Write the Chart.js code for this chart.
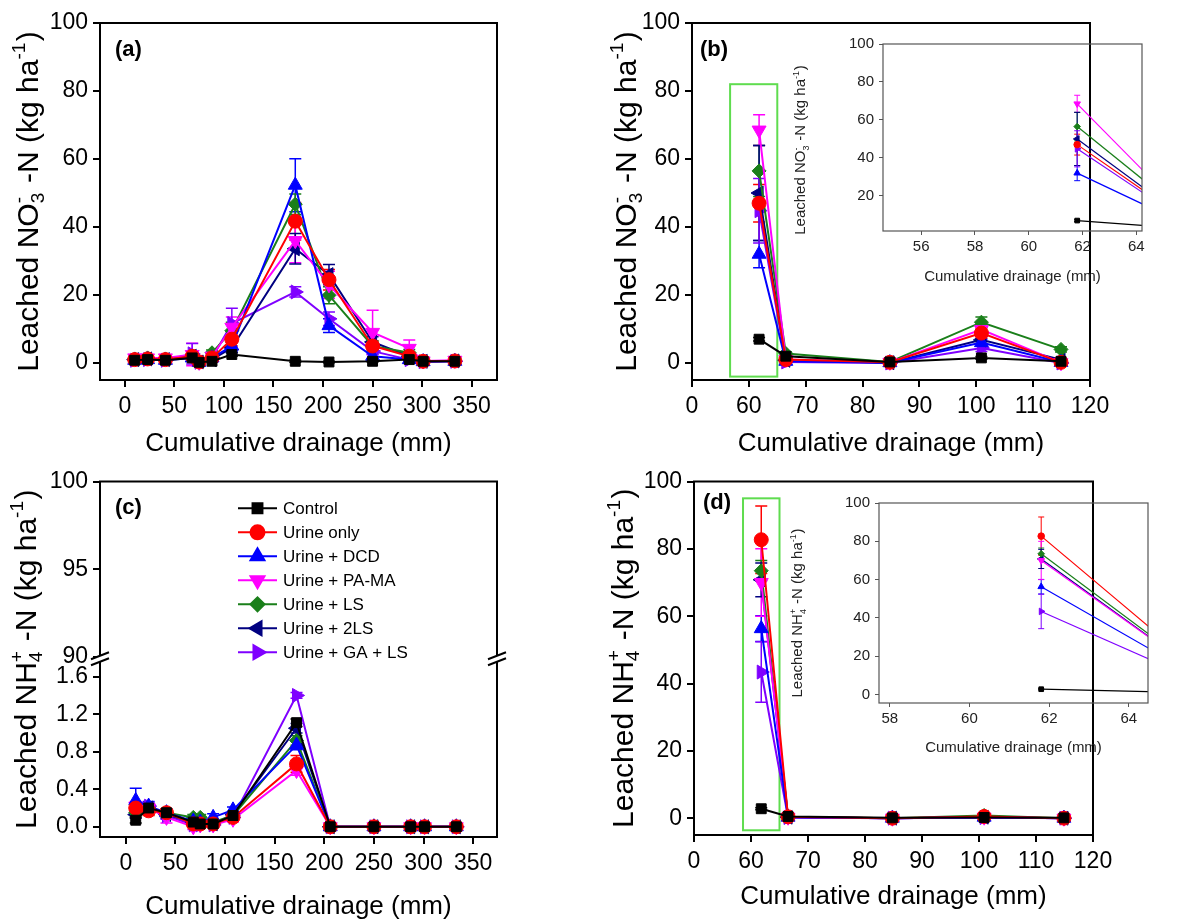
<!DOCTYPE html>
<html><head><meta charset="utf-8">
<script src="https://cdn.jsdelivr.net/npm/chart.js@4.4.1/dist/chart.umd.min.js"></script>
<style>
html,body{margin:0;padding:0;background:#fff;}
#wrap{position:relative;width:1195px;height:924px;overflow:hidden;background:#fff;}
canvas{position:absolute;}
</style></head><body><div id="wrap">
<canvas id="cA" width="597" height="465" style="left:0;top:0"></canvas>
<canvas id="cB" width="598" height="465" style="left:597px;top:0"></canvas>
<canvas id="cC" width="597" height="459" style="left:0;top:465px"></canvas>
<canvas id="cD" width="598" height="459" style="left:597px;top:465px"></canvas>
<canvas id="cBi" width="380" height="265" style="left:780px;top:30px"></canvas>
<canvas id="cDi" width="380" height="285" style="left:780px;top:485px"></canvas>
</div>
<script>
const FONT = "'Liberation Sans', Arial, Helvetica, sans-serif";

// ---------- categories / series ----------
const NAMES = ['Control','Urine only','Urine + DCD','Urine + PA-MA','Urine + LS','Urine + 2LS','Urine + GA + LS'];

// x positions (cumulative drainage, mm)
const XA = [10, 23, 41, 68, 75, 88, 108, 172, 206, 250, 287, 301, 333];
const XB = [61.8, 66.5, 84.8, 100.9, 114.9];

// (a) leached NO3- -N
const A_CONTROL = [0.8, 1.0, 0.8, 1.5, 0.2, 0.5, 2.5, 0.5, 0.3, 0.5, 1.0, 0.5, 0.5];
const A_URINE   = [1.0, 1.2, 1.0, 2.0, 0.3, 1.5, 7.0, 41.7, 24.5, 5.0, 2.0, 0.5, 0.6];
const A_DCD     = [0.8, 1.0, 0.8, 1.5, 0.2, 1.5, 5.0, 52.3, 11.0, 2.0, 1.0, 0.4, 0.5];
const A_PAMA    = [1.5, 1.5, 1.5, 2.5, 0.2, 2.0, 10.5, 36.0, 23.0, 9.0, 4.3, 0.6, 0.8];
const A_LS      = [1.2, 1.5, 1.2, 2.0, 0.3, 3.0, 9.5, 46.7, 19.9, 5.0, 3.0, 0.5, 0.6];
const A_2LS     = [1.0, 1.2, 1.0, 2.0, 0.3, 1.0, 4.5, 33.6, 26.0, 6.2, 2.0, 0.5, 0.6];
const A_GALS    = [0.8, 1.0, 0.8, 2.7, 0.2, 1.5, 11.6, 20.9, 13.0, 3.5, 1.0, 0.4, 0.5];
const A_CONTROL_ERR = [0.3, 0.3, 0.3, 0.5, 0.2, 0.3, 0.5, 0.3, 0.2, 0.2, 0.3, 0.2, 0.2];
const A_URINE_ERR   = [0.5, 0.5, 0.5, 1.0, 0.3, 0.5, 2.0, 5.5, 3.0, 1.5, 1.0, 0.3, 0.3];
const A_DCD_ERR     = [0.5, 0.5, 0.5, 1.0, 0.3, 0.5, 1.5, 7.8, 2.0, 0.8, 0.5, 0.3, 0.3];
const A_PAMA_ERR    = [0.5, 0.5, 0.5, 3.3, 0.3, 0.8, 3.0, 6.5, 4.0, 6.5, 2.5, 0.3, 0.3];
const A_LS_ERR      = [0.5, 0.5, 0.5, 1.0, 0.3, 0.8, 2.5, 3.0, 2.5, 1.5, 1.0, 0.3, 0.3];
const A_2LS_ERR     = [0.5, 0.5, 0.5, 1.0, 0.3, 0.5, 1.5, 4.5, 3.0, 1.5, 1.0, 0.3, 0.3];
const A_GALS_ERR    = [0.5, 0.5, 0.5, 3.0, 0.3, 0.8, 4.5, 1.5, 2.0, 1.0, 0.5, 0.3, 0.3];

// (b) leached NO3- -N
const B_CONTROL = [7.0, 2.0, 0.3, 1.5, 0.5];
const B_URINE   = [47.0, 1.0, 0.2, 8.8, 0.2];
const B_DCD     = [32.0, 0.5, 0.1, 6.0, 0.2];
const B_PAMA    = [68.5, 1.0, 0.2, 9.8, 0.1];
const B_LS      = [56.5, 2.8, 0.3, 12.0, 4.0];
const B_2LS     = [50.0, 0.8, 0.1, 6.8, 1.0];
const B_GALS    = [44.8, 0.3, 0.0, 4.4, 0.0];
const B_CONTROL_ERR = [0.5, 0.4, 0.2, 0.4, 0.2];
const B_URINE_ERR   = [5.5, 0.5, 0.2, 1.5, 0.2];
const B_DCD_ERR     = [4.0, 0.4, 0.2, 1.0, 0.2];
const B_PAMA_ERR    = [4.5, 0.5, 0.2, 1.5, 0.2];
const B_LS_ERR      = [7.5, 0.5, 0.2, 1.5, 0.8];
const B_2LS_ERR     = [14.0, 0.4, 0.2, 1.0, 0.3];
const B_GALS_ERR    = [9.5, 0.3, 0.2, 1.0, 0.2];

// (c) leached NH4+ -N
const C_CONTROL = [0.07, 0.20, 0.15, 0.05, 0.03, 0.03, 0.12, 1.11, 0, 0, 0, 0, 0];
const C_URINE   = [0.20, 0.17, 0.15, 0.03, 0.03, 0.03, 0.10, 0.67, 0, 0, 0, 0, 0];
const C_DCD     = [0.28, 0.22, 0.15, 0.06, 0.05, 0.10, 0.18, 0.87, 0, 0, 0, 0, 0];
const C_PAMA    = [0.22, 0.20, 0.10, 0.00, 0.02, 0.02, 0.08, 0.60, 0, 0, 0, 0, 0];
const C_LS      = [0.15, 0.20, 0.15, 0.10, 0.10, 0.05, 0.12, 0.92, 0, 0, 0, 0, 0];
const C_2LS     = [0.13, 0.20, 0.13, 0.05, 0.05, 0.03, 0.13, 1.05, 0, 0, 0, 0, 0];
const C_GALS    = [0.18, 0.22, 0.12, 0.02, 0.02, 0.02, 0.10, 1.40, 0, 0, 0, 0, 0];
const C_CONTROL_ERR = [0.03, 0.03, 0.03, 0.02, 0.02, 0.02, 0.03, 0.04, 0, 0, 0, 0, 0];
const C_URINE_ERR   = [0.05, 0.05, 0.04, 0.02, 0.02, 0.02, 0.03, 0.09, 0, 0, 0, 0, 0];
const C_DCD_ERR     = [0.13, 0.05, 0.04, 0.03, 0.03, 0.04, 0.03, 0.05, 0, 0, 0, 0, 0];
const C_PAMA_ERR    = [0.05, 0.04, 0.06, 0.03, 0.02, 0.02, 0.03, 0.05, 0, 0, 0, 0, 0];
const C_LS_ERR      = [0.04, 0.04, 0.04, 0.03, 0.03, 0.02, 0.03, 0.05, 0, 0, 0, 0, 0];
const C_2LS_ERR     = [0.04, 0.04, 0.04, 0.02, 0.02, 0.02, 0.03, 0.05, 0, 0, 0, 0, 0];
const C_GALS_ERR    = [0.04, 0.04, 0.04, 0.02, 0.02, 0.02, 0.03, 0.03, 0, 0, 0, 0, 0];

// (d) leached NH4+ -N
const D_CONTROL = [2.8, 0.5, 0.1, 0.2, 0.1];
const D_URINE   = [82.7, 0.4, 0.0, 0.5, 0.0];
const D_DCD     = [56.3, 0.3, 0.0, 0.3, 0.0];
const D_PAMA    = [70.0, 0.3, 0.0, 0.3, 0.0];
const D_LS      = [73.5, 0.4, 0.0, 0.8, 0.0];
const D_2LS     = [70.8, 0.3, 0.0, 0.3, 0.0];
const D_GALS    = [43.4, 0.2, 0.0, 0.2, 0.0];
const D_CONTROL_ERR = [0.3, 0.2, 0.1, 0.1, 0.1];
const D_URINE_ERR   = [10.0, 0.2, 0.1, 0.2, 0.1];
const D_DCD_ERR     = [3.8, 0.2, 0.1, 0.2, 0.1];
const D_PAMA_ERR    = [10.0, 0.2, 0.1, 0.2, 0.1];
const D_LS_ERR      = [3.0, 0.2, 0.1, 0.3, 0.1];
const D_2LS_ERR     = [5.0, 0.2, 0.1, 0.2, 0.1];
const D_GALS_ERR    = [9.0, 0.2, 0.1, 0.2, 0.1];

// tick values
const TICKS_A_X = [0, 50, 100, 150, 200, 250, 300, 350];
const TICKS_MAIN_Y = [0, 20, 40, 60, 80, 100];
const TICKS_B_X = [50, 60, 70, 80, 90, 100, 110, 120];   // axis is broken: first tick is labelled "0"
const TICKS_C_LOW = [0, 0.4, 0.8, 1.2, 1.6];
const TICKS_C_HIGH = [90, 95, 100];
const TICKS_BI_X = [56, 58, 60, 62, 64];
const TICKS_BI_Y = [20, 40, 60, 80, 100];
const TICKS_DI_X = [58, 60, 62, 64];
const TICKS_DI_Y = [0, 20, 40, 60, 80, 100];

// highlighted windows (green boxes) in data units: x0, x1, y0, y1
const B_WINDOW = [56.7, 65.0, -4, 82];
const D_WINDOW = [58.6, 65.0, -3.6, 95];

// ---------- styles ----------
const COLORS = ['#000000', '#ff0000', '#0000ff', '#ff00ff', '#1a7f1a', '#000080', '#7f00ff'];
const STYLES = ['rect', 'circle', 'triangle', 'triangle', 'rectRot', 'triangle', 'triangle'];
const ROTS = [0, 0, 0, 180, 0, 270, 90];
const RSCALE = [1.0, 1.0, 1.15, 1.15, 1.0, 1.15, 1.15];

const NO3_TITLE = [{t: 'Leached NO'}, {sub: '3', sup: '-'}, {t: ' -N (kg ha'}, {sup: '-1'}, {t: ')'}];
const NH4_TITLE = [{t: 'Leached NH'}, {sub: '4', sup: '+'}, {t: ' -N (kg ha'}, {sup: '-1'}, {t: ')'}];

function makeDatasets(xs, series, errs, r, lw) {
  return series.map((vals, i) => ({
    label: NAMES[i],
    data: vals.map((v, j) => ({x: xs[j], y: v})),
    errors: errs[i],
    borderColor: COLORS[i], backgroundColor: COLORS[i],
    borderWidth: lw, tension: 0,
    pointStyle: STYLES[i], pointRotation: ROTS[i],
    pointRadius: r * RSCALE[i], pointBorderWidth: 1,
    pointBackgroundColor: COLORS[i], pointBorderColor: COLORS[i],
    yAxisID: 'y'
  }));
}

function axisX(o) {
  return {
    type: 'linear', position: 'bottom', min: o.min, max: o.max,
    afterBuildTicks: s => { s.ticks = o.ticks.map(v => ({value: v})); },
    afterFit: s => { s.height = o.h; },
    border: {display: false},
    grid: {drawOnChartArea: false, drawTicks: true, tickLength: o.tl, color: o.gc, lineWidth: o.glw},
    ticks: {color: o.tc, font: {family: FONT, size: o.fs, lineHeight: 1}, padding: o.tp, maxRotation: 0, minRotation: 0, autoSkip: false, callback: o.cb || (v => String(v))},
    title: {display: true, text: 'Cumulative drainage (mm)', color: o.tc, font: {family: FONT, size: o.tfs, lineHeight: 1.2}, padding: {top: 0, bottom: o.pb}}
  };
}
function axisY(o) {
  const a = {
    type: 'linear', position: 'left', min: o.min, max: o.max,
    afterBuildTicks: s => { s.ticks = o.ticks.map(v => ({value: v})); },
    afterFit: s => { s.width = o.w; },
    border: {display: false},
    grid: {drawOnChartArea: false, drawTicks: true, tickLength: o.tl, color: o.gc, lineWidth: o.glw},
    ticks: {color: o.tc, font: {family: FONT, size: o.fs, lineHeight: 1}, padding: o.tp, autoSkip: false, callback: o.cb || (v => String(v))}
  };
  if (o.stack) { a.stack = o.stack; a.stackWeight = o.sw; a.weight = o.weight; }
  return a;
}

function drawRich(ctx, parts, cx, cy, size, color) {
  ctx.save();
  ctx.translate(cx, cy);
  ctx.rotate(-Math.PI / 2);
  const small = Math.round(size * 0.62);
  const fN = size + 'px ' + FONT, fS = small + 'px ' + FONT;
  const widths = parts.map(p => {
    if (p.t !== undefined) { ctx.font = fN; return ctx.measureText(p.t).width; }
    ctx.font = fS;
    return Math.max(p.sub ? ctx.measureText(p.sub).width : 0, p.sup ? ctx.measureText(p.sup).width : 0) + size * 0.05;
  });
  const total = widths.reduce((a, b) => a + b, 0);
  let x = -total / 2;
  const base = size * 0.36;
  ctx.fillStyle = color; ctx.textAlign = 'left'; ctx.textBaseline = 'alphabetic';
  parts.forEach((p, i) => {
    if (p.t !== undefined) { ctx.font = fN; ctx.fillText(p.t, x, base); }
    else {
      ctx.font = fS;
      if (p.sub) ctx.fillText(p.sub, x, base + size * 0.22);
      if (p.sup) ctx.fillText(p.sup, x, base - size * 0.42);
    }
    x += widths[i];
  });
  ctx.restore();
}

function drawMarker(ctx, style, rotation, radius, x, y) {
  if (Chart.helpers && Chart.helpers.drawPoint) {
    Chart.helpers.drawPoint(ctx, {pointStyle: style, rotation: rotation, radius: radius, borderWidth: 1}, x, y);
  } else {
    ctx.beginPath(); ctx.arc(x, y, radius, 0, Math.PI * 2); ctx.fill();
  }
}

const deco = {
  id: 'deco',
  beforeDatasetsDraw(chart, args, o) {
    const ctx = chart.ctx, ca = chart.chartArea;
    if (o.box) {
      const xs = chart.scales.x, ys = chart.scales.y, b = o.box;
      const l = xs.getPixelForValue(b[0]), r = xs.getPixelForValue(b[1]);
      const t = ys.getPixelForValue(b[3]), bt = ys.getPixelForValue(b[2]);
      ctx.save(); ctx.strokeStyle = '#5fdc4f'; ctx.lineWidth = 2;
      ctx.strokeRect(l, t, r - l, bt - t); ctx.restore();
    }
    if (o.err) {
      ctx.save();
      ctx.beginPath(); ctx.rect(ca.left, ca.top, ca.right - ca.left, ca.bottom - ca.top); ctx.clip();
      chart.data.datasets.forEach((ds, i) => {
        if (!ds.errors) return;
        const meta = chart.getDatasetMeta(i);
        const ys = chart.scales[meta.yAxisID];
        ctx.strokeStyle = ds.borderColor; ctx.lineWidth = o.err.lw;
        meta.data.forEach((pt, j) => {
          const e = ds.errors[j]; if (!e) return;
          const v = ds.data[j].y;
          const yt = ys.getPixelForValue(v + e), yb = ys.getPixelForValue(v - e);
          const c = o.err.cap;
          ctx.beginPath();
          ctx.moveTo(pt.x, yt); ctx.lineTo(pt.x, yb);
          ctx.moveTo(pt.x - c, yt); ctx.lineTo(pt.x + c, yt);
          ctx.moveTo(pt.x - c, yb); ctx.lineTo(pt.x + c, yb);
          ctx.stroke();
        });
      });
      ctx.restore();
    }
  },
  afterDraw(chart, args, o) {
    const ctx = chart.ctx, ca = chart.chartArea;
    if (o.frame) {
      ctx.save(); ctx.strokeStyle = o.frame.color; ctx.lineWidth = o.frame.width;
      ctx.strokeRect(ca.left, ca.top, ca.right - ca.left, ca.bottom - ca.top); ctx.restore();
    }
    if (o.breakMarks) {
      const yb = chart.scales.y.top;
      ctx.save();
      [ca.left, ca.right].forEach(x => {
        ctx.fillStyle = '#fff'; ctx.fillRect(x - 3, yb - 3, 6, 6);
        ctx.strokeStyle = '#000'; ctx.lineWidth = 2;
        [-3, 3].forEach(d => {
          ctx.beginPath(); ctx.moveTo(x - 9, yb + d + 3.5); ctx.lineTo(x + 9, yb + d - 3.5); ctx.stroke();
        });
      });
      ctx.restore();
    }
    if (o.label) {
      ctx.save(); ctx.fillStyle = '#000'; ctx.font = 'bold 22px ' + FONT;
      ctx.textAlign = 'left'; ctx.textBaseline = 'middle';
      ctx.fillText(o.label.text, o.label.x, o.label.y); ctx.restore();
    }
    if (o.ytitle) {
      const cy = o.ytitle.cy !== undefined ? o.ytitle.cy : (ca.top + ca.bottom) / 2;
      drawRich(ctx, o.ytitle.parts, o.ytitle.x, cy, o.ytitle.size, o.ytitle.color || '#000');
    }
    if (o.legend) {
      const L = o.legend;
      ctx.save();
      chart.data.datasets.forEach((ds, i) => {
        const y = L.y0 + i * L.dy;
        ctx.strokeStyle = ds.borderColor; ctx.fillStyle = ds.borderColor; ctx.lineWidth = 2;
        ctx.beginPath(); ctx.moveTo(L.x0, y); ctx.lineTo(L.x1, y); ctx.stroke();
        drawMarker(ctx, ds.pointStyle, ds.pointRotation, ds.pointRadius, (L.x0 + L.x1) / 2, y);
        ctx.fillStyle = '#000'; ctx.font = L.fs + 'px ' + FONT;
        ctx.textAlign = 'left'; ctx.textBaseline = 'middle';
        ctx.fillText(ds.label, L.tx, y + 1);
      });
      ctx.restore();
    }
  }
};

const BASE_OPTS = {responsive: false, animation: false, devicePixelRatio: 1, events: []};
const MAIN_X = {tl: 7, gc: '#000', glw: 2, tc: '#000', fs: 23, tp: 8, tfs: 26};
const MAIN_Y = {tl: 7, gc: '#000', glw: 2, tc: '#000', fs: 23, tp: 5};
const IN_X = {tl: 4, gc: '#555', glw: 1, tc: '#222', fs: 15, tp: 4, tfs: 15};
const IN_Y = {tl: 4, gc: '#555', glw: 1, tc: '#222', fs: 15, tp: 5};
const brokenLabel = v => (v < 55 ? '0' : String(v));

// (a)
new Chart(document.getElementById('cA'), {
  type: 'line',
  data: {datasets: makeDatasets(XA,
    [A_CONTROL, A_URINE, A_DCD, A_PAMA, A_LS, A_2LS, A_GALS],
    [A_CONTROL_ERR, A_URINE_ERR, A_DCD_ERR, A_PAMA_ERR, A_LS_ERR, A_2LS_ERR, A_GALS_ERR], 7, 2)},
  options: Object.assign({}, BASE_OPTS, {
    layout: {padding: {left: 0, top: 23, right: 100, bottom: 0}},
    scales: {
      x: axisX(Object.assign({}, MAIN_X, {min: -25, max: 375.5, ticks: TICKS_A_X, h: 85, pb: 6})),
      y: axisY(Object.assign({}, MAIN_Y, {min: -5, max: 100, ticks: TICKS_MAIN_Y, w: 100}))
    },
    plugins: {legend: {display: false}, tooltip: {enabled: false},
      deco: {frame: {color: '#000', width: 2}, label: {text: '(a)', x: 115, y: 50},
        ytitle: {parts: NO3_TITLE, x: 27, size: 30}, err: {cap: 6, lw: 1.5}}}
  }),
  plugins: [deco]
});

// (b)
new Chart(document.getElementById('cB'), {
  type: 'line',
  data: {datasets: makeDatasets(XB,
    [B_CONTROL, B_URINE, B_DCD, B_PAMA, B_LS, B_2LS, B_GALS],
    [B_CONTROL_ERR, B_URINE_ERR, B_DCD_ERR, B_PAMA_ERR, B_LS_ERR, B_2LS_ERR, B_GALS_ERR], 7, 2)},
  options: Object.assign({}, BASE_OPTS, {
    layout: {padding: {left: 0, top: 23, right: 105, bottom: 0}},
    scales: {
      x: axisX(Object.assign({}, MAIN_X, {min: 50, max: 120, ticks: TICKS_B_X, h: 85, pb: 6, cb: brokenLabel})),
      y: axisY(Object.assign({}, MAIN_Y, {min: -5, max: 100, ticks: TICKS_MAIN_Y, w: 95}))
    },
    plugins: {legend: {display: false}, tooltip: {enabled: false},
      deco: {frame: {color: '#000', width: 2}, label: {text: '(b)', x: 103, y: 50}, box: B_WINDOW,
        ytitle: {parts: NO3_TITLE, x: 28, size: 30}, err: {cap: 6, lw: 1.5}}}
  }),
  plugins: [deco]
});

// (c)
new Chart(document.getElementById('cC'), {
  type: 'line',
  data: {datasets: makeDatasets(XA,
    [C_CONTROL, C_URINE, C_DCD, C_PAMA, C_LS, C_2LS, C_GALS],
    [C_CONTROL_ERR, C_URINE_ERR, C_DCD_ERR, C_PAMA_ERR, C_LS_ERR, C_2LS_ERR, C_GALS_ERR], 7, 2)},
  options: Object.assign({}, BASE_OPTS, {
    layout: {padding: {left: 0, top: 13, right: 100, bottom: 0}},
    scales: {
      x: axisX(Object.assign({}, MAIN_X, {min: -26, max: 374, ticks: TICKS_A_X, h: 87, pb: 2})),
      y: axisY(Object.assign({}, MAIN_Y, {min: -0.109, max: 1.791, ticks: TICKS_C_LOW, w: 100,
        cb: v => v.toFixed(1), stack: 'nh4', sw: 180, weight: 0})),
      y2: axisY(Object.assign({}, MAIN_Y, {min: 89.89, max: 100, ticks: TICKS_C_HIGH, w: 100,
        stack: 'nh4', sw: 179, weight: 1}))
    },
    plugins: {legend: {display: false}, tooltip: {enabled: false},
      deco: {frame: {color: '#000', width: 2}, breakMarks: true, label: {text: '(c)', x: 115, y: 43},
        ytitle: {parts: NH4_TITLE, x: 25, size: 30}, err: {cap: 6, lw: 1.5},
        legend: {x0: 238, x1: 277, tx: 283, y0: 43.3, dy: 24, fs: 17}}}
  }),
  plugins: [deco]
});

// (d)
new Chart(document.getElementById('cD'), {
  type: 'line',
  data: {datasets: makeDatasets(XB,
    [D_CONTROL, D_URINE, D_DCD, D_PAMA, D_LS, D_2LS, D_GALS],
    [D_CONTROL_ERR, D_URINE_ERR, D_DCD_ERR, D_PAMA_ERR, D_LS_ERR, D_2LS_ERR, D_GALS_ERR], 7, 2)},
  options: Object.assign({}, BASE_OPTS, {
    layout: {padding: {left: 0, top: 12, right: 102, bottom: 0}},
    scales: {
      x: axisX(Object.assign({}, MAIN_X, {min: 50, max: 120, ticks: TICKS_B_X, h: 89, pb: 12, cb: brokenLabel})),
      y: axisY(Object.assign({}, MAIN_Y, {min: -5, max: 100, ticks: TICKS_MAIN_Y, w: 97}))
    },
    plugins: {legend: {display: false}, tooltip: {enabled: false},
      deco: {frame: {color: '#000', width: 2}, label: {text: '(d)', x: 106, y: 38}, box: D_WINDOW,
        ytitle: {parts: NH4_TITLE, x: 25, size: 30}, err: {cap: 6, lw: 1.5}}}
  }),
  plugins: [deco]
});

// inset of (b)
new Chart(document.getElementById('cBi'), {
  type: 'line',
  data: {datasets: makeDatasets(XB,
    [B_CONTROL, B_URINE, B_DCD, B_PAMA, B_LS, B_2LS, B_GALS],
    [B_CONTROL_ERR, B_URINE_ERR, B_DCD_ERR, B_PAMA_ERR, B_LS_ERR, B_2LS_ERR, B_GALS_ERR], 3.3, 1.2)},
  options: Object.assign({}, BASE_OPTS, {
    layout: {padding: {left: 0, top: 14, right: 18, bottom: 0}},
    scales: {
      x: axisX(Object.assign({}, IN_X, {min: 54.58, max: 64.21, ticks: TICKS_BI_X, h: 64, pb: 9})),
      y: axisY(Object.assign({}, IN_Y, {min: 1.5, max: 100, ticks: TICKS_BI_Y, w: 103}))
    },
    plugins: {legend: {display: false}, tooltip: {enabled: false},
      deco: {frame: {color: '#555', width: 1.2}, ytitle: {parts: NO3_TITLE, x: 20, cy: 120, size: 15, color: '#222'},
        err: {cap: 3, lw: 1}}}
  }),
  plugins: [deco]
});

// inset of (d)
new Chart(document.getElementById('cDi'), {
  type: 'line',
  data: {datasets: makeDatasets(XB,
    [D_CONTROL, D_URINE, D_DCD, D_PAMA, D_LS, D_2LS, D_GALS],
    [D_CONTROL_ERR, D_URINE_ERR, D_DCD_ERR, D_PAMA_ERR, D_LS_ERR, D_2LS_ERR, D_GALS_ERR], 3.3, 1.2)},
  options: Object.assign({}, BASE_OPTS, {
    layout: {padding: {left: 0, top: 18, right: 12, bottom: 0}},
    scales: {
      x: axisX(Object.assign({}, IN_X, {min: 57.73, max: 64.48, ticks: TICKS_DI_X, h: 67, pb: 13})),
      y: axisY(Object.assign({}, IN_Y, {min: -4.4, max: 100, ticks: TICKS_DI_Y, w: 99}))
    },
    plugins: {legend: {display: false}, tooltip: {enabled: false},
      deco: {frame: {color: '#555', width: 1.2}, ytitle: {parts: NH4_TITLE, x: 17, cy: 128, size: 15, color: '#222'},
        err: {cap: 3, lw: 1}}}
  }),
  plugins: [deco]
});
</script>
</body></html>
